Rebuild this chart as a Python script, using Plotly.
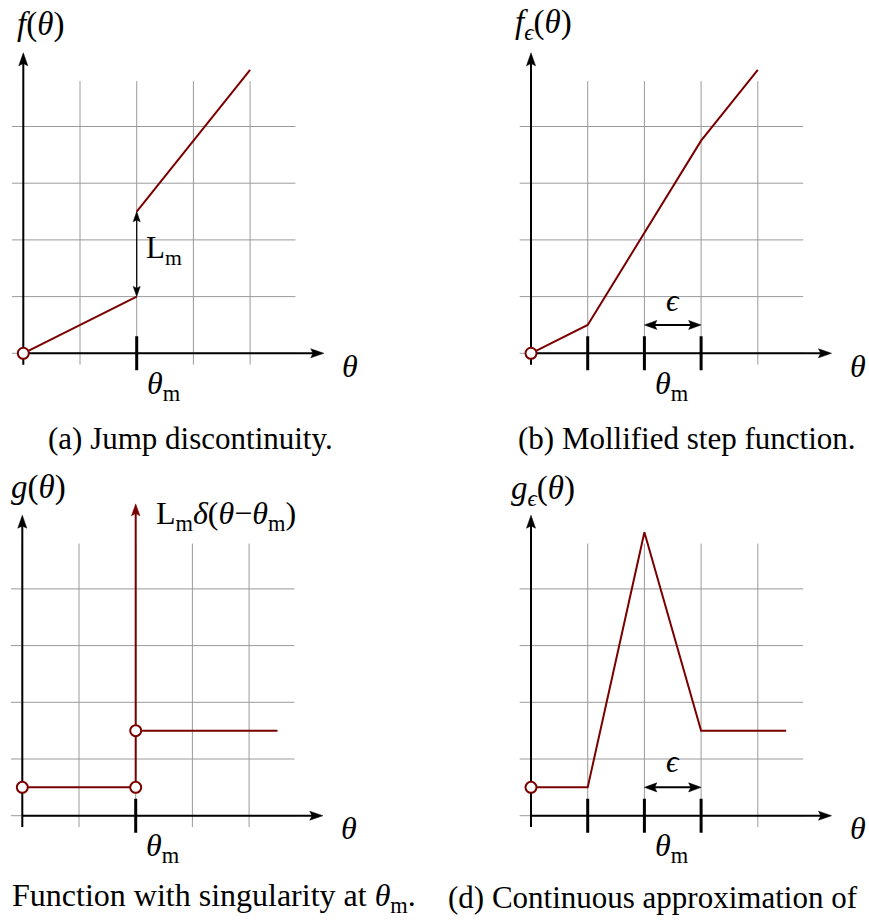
import plotly.graph_objects as go

W, H = 869, 920
U = 56.7  # pixels per unit, same on both axes

# panel origins in pixels: (a) jump, (b) mollified step, (c) singular, (d) approximation
ORIGINS = {"a": (23.3, 353.3), "b": (531.0, 353.3), "c": (22.3, 815.7), "d": (531.0, 815.7)}
AXES = {"a": ("x", "y"), "b": ("x2", "y2"), "c": ("x3", "y3"), "d": ("x4", "y4")}
XR = (-0.35, 5.95)
YR = (-0.75, 6.1)

GRID_TICKS = [0, 1, 2, 3, 4]
GRID_LO, GRID_HI = -0.2, 4.8
AXIS_END = 5.3
TICK_HALF = 0.3

THETA_M = 2.0
EPS = 1.0

# (a) jump discontinuity
fa_left_x = [0, 2]
fa_left_y = [0, 1]
fa_right_x = [2, 4]
fa_right_y = [2.5, 5]

# (b) mollified step
fb_x = [0, 1, 3, 4]
fb_y = [0, 0.5, 3.75, 5]

# (c) singular derivative
gc_left_x = [0, 2]
gc_left_y = [0.5, 0.5]
gc_right_x = [2, 4.5]
gc_right_y = [1.5, 1.5]
gc_delta_x = [2, 2]
gc_delta_y = [0.5, 5.5]

# (d) continuous approximation
gd_x = [0, 1, 2, 3, 4.5]
gd_y = [0.5, 0.5, 5, 1.5, 1.5]

TICKS = {"a": [THETA_M], "b": [THETA_M - EPS, THETA_M, THETA_M + EPS],
         "c": [THETA_M], "d": [THETA_M - EPS, THETA_M, THETA_M + EPS]}

RED = "#7a0000"
BLACK = "#000000"
GRID = "#9a9a9a"
FONT = "Liberation Serif"

fig = go.Figure()


def ref(p):
    xa, ya = AXES[p]
    return dict(xaxis=xa, yaxis=ya)


def line(p, xs, ys, color, width):
    fig.add_trace(go.Scatter(x=xs, y=ys, mode="lines", line=dict(color=color, width=width),
                             hoverinfo="skip", showlegend=False, **ref(p)))


def head(p, tip, d, length, half_w, color):
    tx, ty = tip
    dx, dy = d
    nx, ny = -dy, dx
    bx, by = tx - length * dx, ty - length * dy
    xs = [tx, bx + half_w * nx, tx - 0.82 * length * dx, bx - half_w * nx, tx]
    ys = [ty, by + half_w * ny, ty - 0.82 * length * dy, by - half_w * ny, ty]
    fig.add_trace(go.Scatter(x=xs, y=ys, mode="lines", fill="toself", fillcolor=color,
                             line=dict(color=color, width=0.5), hoverinfo="skip",
                             showlegend=False, **ref(p)))


def arrow(p, x0, y0, x1, y1, color, width, length, half_w, both=False):
    L = ((x1 - x0) ** 2 + (y1 - y0) ** 2) ** 0.5
    dx, dy = (x1 - x0) / L, (y1 - y0) / L
    sx0, sy0 = (x0 + 0.7 * length * dx, y0 + 0.7 * length * dy) if both else (x0, y0)
    line(p, [sx0, x1 - 0.7 * length * dx], [sy0, y1 - 0.7 * length * dy], color, width)
    head(p, (x1, y1), (dx, dy), length, half_w, color)
    if both:
        head(p, (x0, y0), (-dx, -dy), length, half_w, color)


def circles(p, xs, ys):
    fig.add_trace(go.Scatter(x=xs, y=ys, mode="markers",
                             marker=dict(symbol="circle", size=11, color="white",
                                         line=dict(color=RED, width=2)),
                             hoverinfo="skip", showlegend=False, **ref(p)))


def ann(p, x, y, text, xanchor="center", yanchor="middle", size=31):
    xa, ya = AXES[p]
    fig.add_annotation(x=x, y=y, xref=xa, yref=ya, text=text, showarrow=False,
                       xanchor=xanchor, yanchor=yanchor,
                       font=dict(family=FONT, size=size, color=BLACK))


def frame(p):
    # help-line grid
    gx, gy = [], []
    for t in GRID_TICKS:
        gx += [t, t, None]
        gy += [GRID_LO, GRID_HI, None]
        gx += [GRID_LO, GRID_HI, None]
        gy += [t, t, None]
    line(p, gx, gy, GRID, 1)
    # axes with arrow tips
    arrow(p, 0, 0, AXIS_END, 0, BLACK, 2, 0.23, 0.08)
    arrow(p, 0, GRID_LO, 0, AXIS_END, BLACK, 2, 0.23, 0.08)
    # tick marks
    tx, ty = [], []
    for t in TICKS[p]:
        tx += [t, t, None]
        ty += [-TICK_HALF, TICK_HALF, None]
    line(p, tx, ty, BLACK, 3)
    ann(p, 5.76, -0.22, "<i>θ</i>", size=32)
    ann(p, THETA_M + 0.48, -0.56, "<i>θ</i><sub>m</sub>", size=32)


for p in "abcd":
    frame(p)

# (a)
line("a", fa_left_x, fa_left_y, RED, 2)
line("a", fa_right_x, fa_right_y, RED, 2)
arrow("a", THETA_M, fa_left_y[-1], THETA_M, fa_right_y[0], BLACK, 1.2, 0.18, 0.062, both=True)
circles("a", [fa_left_x[0]], [fa_left_y[0]])
ann("a", 0.3, 5.8, "<i>f</i>(<i>θ</i>)", size=33)
ann("a", 2.12, 1.82, "L<sub>m</sub>", xanchor="left")

# (b)
line("b", fb_x, fb_y, RED, 2)
arrow("b", THETA_M, 0.5, THETA_M + EPS, 0.5, BLACK, 2, 0.22, 0.08, both=True)
circles("b", [fb_x[0]], [fb_y[0]])
ann("b", 0.22, 5.8, "<i>f</i><sub><i>ϵ</i></sub>(<i>θ</i>)", size=33)
ann("b", THETA_M + EPS / 2, 0.94, "<i>ϵ</i>")

# (c)
line("c", gc_left_x, gc_left_y, RED, 2)
line("c", gc_right_x, gc_right_y, RED, 2)
arrow("c", gc_delta_x[0], gc_delta_y[0], gc_delta_x[1], gc_delta_y[1], RED, 2, 0.21, 0.075)
circles("c", [gc_left_x[0], gc_left_x[1], gc_right_x[0]], [gc_left_y[0], gc_left_y[1], gc_right_y[0]])
ann("c", 0.28, 5.78, "<i>g</i>(<i>θ</i>)", size=33)
ann("c", 2.33, 5.3, "L<sub>m</sub><i>δ</i>(<i>θ</i>−<i>θ</i><sub>m</sub>)", xanchor="left", size=32)

# (d)
line("d", gd_x, gd_y, RED, 2)
arrow("d", THETA_M, 0.5, THETA_M + EPS, 0.5, BLACK, 2, 0.22, 0.08, both=True)
circles("d", [gd_x[0]], [gd_y[0]])
ann("d", 0.22, 5.74, "<i>g</i><sub><i>ϵ</i></sub>(<i>θ</i>)", size=33)
ann("d", THETA_M + EPS / 2, 0.95, "<i>ϵ</i>")

# sub-captions
CAPTIONS = [
    (190, 438, "(a) Jump discontinuity.", 31),
    (687, 438, "(b) Mollified step function.", 31),
    (214, 897, "Function with singularity at <i>θ</i><sub>m</sub>.", 32),
    (653, 897, "(d) Continuous approximation of", 31),
]
for cx, cy, text, size in CAPTIONS:
    fig.add_annotation(x=cx / W, y=1 - cy / H, xref="paper", yref="paper", text=text,
                       showarrow=False, xanchor="center", yanchor="middle",
                       font=dict(family=FONT, size=size, color=BLACK))

# place each panel so one unit is U pixels on both axes
layout_axes = {}
for i, p in enumerate("abcd"):
    ox, oy = ORIGINS[p]
    xd = [(ox + XR[0] * U) / W, (ox + XR[1] * U) / W]
    yd = [1 - (oy - YR[0] * U) / H, 1 - (oy - YR[1] * U) / H]
    sfx = "" if i == 0 else str(i + 1)
    layout_axes["xaxis" + sfx] = dict(domain=xd, range=list(XR), visible=False, fixedrange=True,
                                      anchor="y" + sfx)
    layout_axes["yaxis" + sfx] = dict(domain=yd, range=list(YR), visible=False, fixedrange=True,
                                      anchor="x" + sfx)

fig.update_layout(width=W, height=H, autosize=False, margin=dict(l=0, r=0, t=0, b=0),
                  paper_bgcolor="white", plot_bgcolor="white", showlegend=False,
                  **layout_axes)

fig.write_html("out.html", config={"displayModeBar": False})
